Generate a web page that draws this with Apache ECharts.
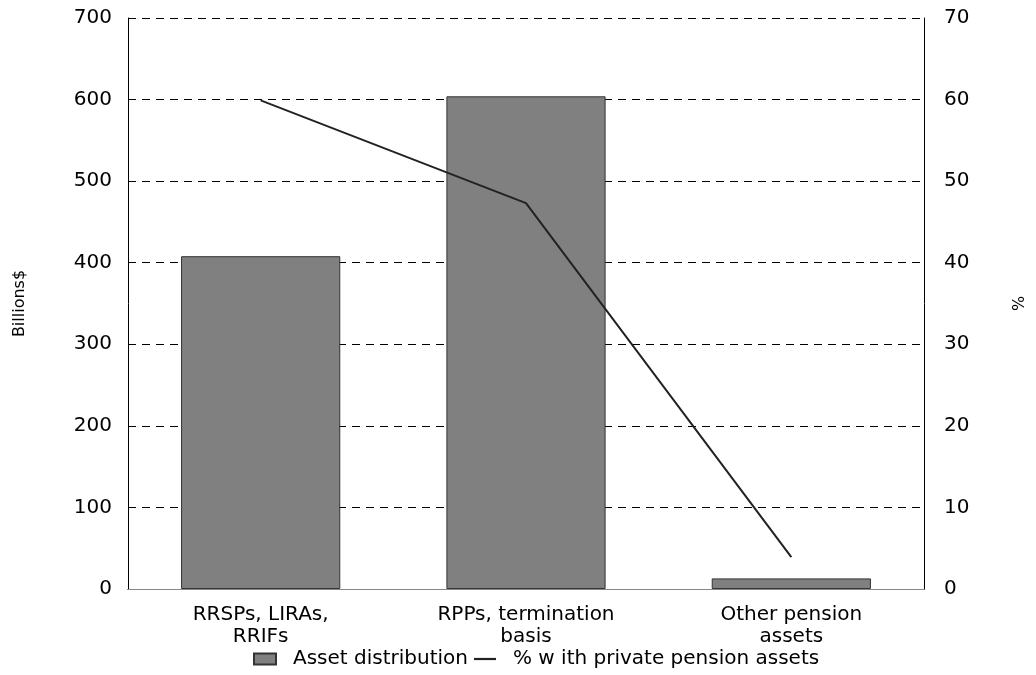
<!DOCTYPE html>
<html>
<head>
<meta charset="utf-8">
<script src="https://cdn.jsdelivr.net/npm/echarts@6/dist/echarts.min.js"></script>
<style>
  html, body { margin: 0; padding: 0; background: #fff; }
  #chart { width: 1036px; height: 675px; }
</style>
</head>
<body>
<div id="chart"></div>
<script>
// Categories and values
const categories = ['RRSPs, LIRAs,\nRRIFs', 'RPPs, termination\nbasis', 'Other pension\nassets'];
const assetDistribution = [408, 604, 13];      // billions of dollars
const pctWithAssets = [59.9, 47.3, 3.9];       // percent
const leftTicks = { min: 0, max: 700, interval: 100 };
const rightTicks = { min: 0, max: 70, interval: 10 };

const font = '"DejaVu Sans", sans-serif';
const chart = echarts.init(document.getElementById('chart'));

chart.setOption({
  animation: false,
  backgroundColor: '#fff',
  grid: { left: 128, right: 108, top: 18, bottom: 86, containLabel: false },
  legend: {
    left: 248,
    bottom: 1,
    itemWidth: 22,
    itemHeight: 11,
    itemGap: 6,
    textStyle: { fontFamily: font, fontSize: 20, color: '#000', padding: [0, 0, 0, 12] },
    data: [
      { name: 'Asset distribution', icon: 'rect' },
      { name: '% w ith private pension assets', icon: 'path://M0,0h20v2h-20z' }
    ]
  },
  xAxis: [
    {
      type: 'category',
      data: categories,
      axisLine: { lineStyle: { color: '#000', width: 1 } },
      axisTick: { show: false },
      axisLabel: { fontFamily: font, fontSize: 20, color: '#000', margin: 15, lineHeight: 22 }
    },
    {
      type: 'category',
      position: 'top',
      data: categories,
      axisLine: { lineStyle: { color: '#888', width: 1 } },
      axisTick: { show: false },
      axisLabel: { show: false }
    }
  ],
  yAxis: [
    {
      type: 'value',
      min: leftTicks.min, max: leftTicks.max, interval: leftTicks.interval,
      name: 'Billions$',
      nameLocation: 'middle',
      nameRotate: 90,
      nameGap: 100,
      nameTextStyle: { fontFamily: font, fontSize: 16, color: '#000' },
      axisLine: { show: true, lineStyle: { color: '#000', width: 1 } },
      axisTick: { show: false },
      axisLabel: { fontFamily: font, fontSize: 20, color: '#000', margin: 16 },
      splitLine: { show: true, lineStyle: { color: '#000', type: [8, 6], width: 1 } }
    },
    {
      type: 'value',
      position: 'right',
      min: rightTicks.min, max: rightTicks.max, interval: rightTicks.interval,
      name: '%',
      nameLocation: 'middle',
      nameRotate: 90,
      nameGap: 88,
      nameTextStyle: { fontFamily: font, fontSize: 16, color: '#000' },
      axisLine: { show: true, lineStyle: { color: '#000', width: 1 } },
      axisTick: { show: false },
      axisLabel: { fontFamily: font, fontSize: 20, color: '#000', margin: 20 },
      splitLine: { show: false }
    }
  ],
  series: [
    {
      name: 'Asset distribution',
      type: 'bar',
      data: assetDistribution,
      barWidth: '60%',
      itemStyle: { color: '#808080', borderColor: '#333', borderWidth: 1 },
      z: 3
    },
    {
      name: '% w ith private pension assets',
      type: 'line',
      yAxisIndex: 1,
      data: pctWithAssets,
      symbol: 'none',
      lineStyle: { color: '#222', width: 2 },
      itemStyle: { color: '#222' },
      z: 4
    }
  ]
});
</script>
</body>
</html>
